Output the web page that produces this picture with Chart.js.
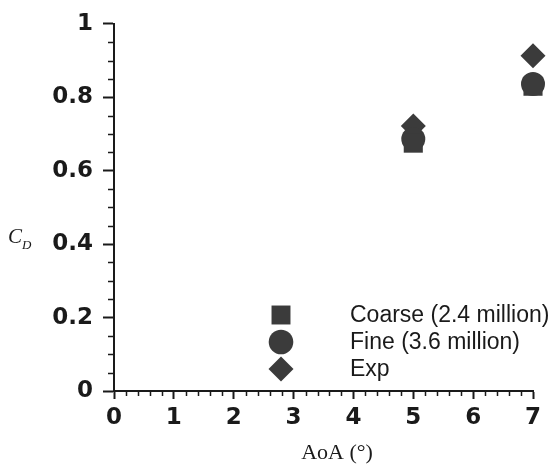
<!DOCTYPE html>
<html>
<head>
<meta charset="utf-8">
<script src="https://cdn.jsdelivr.net/npm/chart.js@4/dist/chart.umd.min.js"></script>
<style>
  html, body { margin: 0; padding: 0; background: #fff; }
  #wrap { width: 556px; height: 467px; }
</style>
</head>
<body>
<div id="wrap"><canvas id="cdChart"></canvas></div>
<script>
// 数据
const seriesNames = ['Coarse (2.4 million)', 'Fine (3.6 million)', 'Exp'];
const aoa = [5, 7];
const coarseCd = [0.675, 0.830];
const fineCd = [0.686, 0.836];
const expCd = [0.722, 0.913];
const xTicks = [0, 1, 2, 3, 4, 5, 6, 7];
const yTicks = [0, 0.2, 0.4, 0.6, 0.8, 1];
const xTitle = 'AoA (°)';

const inkColor = '#1a1a1a';
const markColor = '#3b3b3b';
const tickFont = { family: '"DejaVu Sans", "Liberation Sans", Arial, sans-serif', size: 23, weight: 'bold' };

function toPoints(values) {
  return aoa.map((a, i) => ({ x: a, y: values[i] }));
}

// 图例画在绘图区内（右下角）
const insideLegend = {
  id: 'insideLegend',
  afterDatasetsDraw(chart) {
    const ctx = chart.ctx;
    const x0 = 281, textX = 350;
    const rows = [315, 342, 369];
    const legendRadius = [13.4, 12.3, 12.5];
    ctx.save();
    chart.data.datasets.forEach((ds, i) => {
      ctx.fillStyle = markColor;
      Chart.helpers.drawPoint(ctx, {
        pointStyle: ds.pointStyle,
        radius: legendRadius[i],
        rotation: 0,
        borderWidth: 0
      }, x0, rows[i]);
      ctx.fillStyle = inkColor;
      ctx.font = '23px "Liberation Sans", Arial, sans-serif';
      ctx.textBaseline = 'middle';
      ctx.textAlign = 'left';
      ctx.fillText(ds.label, textX, rows[i] + 1);
    });
    ctx.restore();
  }
};

// 次刻度 + 坐标轴标题（C_D 带下标）
const axisExtras = {
  id: 'axisExtras',
  afterDraw(chart) {
    const ctx = chart.ctx;
    const xs = chart.scales.x, ys = chart.scales.y;
    const area = chart.chartArea;
    ctx.save();
    ctx.strokeStyle = inkColor;
    ctx.lineWidth = 1.5;
    ctx.beginPath();
    for (let k = 0; k <= 20; k++) {
      if (k % 4 === 0) continue;
      const py = Math.round(ys.getPixelForValue(k * 0.05)) + 0.5;
      ctx.moveTo(area.left - 6, py);
      ctx.lineTo(area.left, py);
    }
    for (let k = 0; k <= 35; k++) {
      if (k % 5 === 0) continue;
      const px = Math.round(xs.getPixelForValue(k * 0.2)) + 0.5;
      ctx.moveTo(px, area.bottom);
      ctx.lineTo(px, area.bottom + 5);
    }
    ctx.stroke();

    ctx.fillStyle = inkColor;
    ctx.textBaseline = 'alphabetic';
    ctx.font = 'italic 21px "Liberation Serif", "Times New Roman", serif';
    ctx.fillText('C', 8, 243);
    ctx.font = 'italic 13px "Liberation Serif", "Times New Roman", serif';
    ctx.fillText('D', 22, 249);

    // 横轴标题（原图略偏右）
    ctx.font = '22px "Liberation Serif", "Times New Roman", serif';
    ctx.textAlign = 'center';
    ctx.fillText(xTitle, 337, 459);
    ctx.restore();
  }
};

document.addEventListener('DOMContentLoaded', function() {
  const ctx = document.getElementById('cdChart').getContext('2d');
  new Chart(ctx, {
    type: 'scatter',
    data: {
      datasets: [
        { label: seriesNames[0], data: toPoints(coarseCd), pointStyle: 'rect', pointRadius: 13.5 },
        { label: seriesNames[1], data: toPoints(fineCd), pointStyle: 'circle', pointRadius: 12 },
        { label: seriesNames[2], data: toPoints(expCd), pointStyle: 'rectRot', pointRadius: 12.5 }
      ].map(ds => Object.assign(ds, {
        backgroundColor: markColor,
        borderColor: markColor,
        borderWidth: 0,
        clip: false,
        pointHoverRadius: ds.pointRadius
      }))
    },
    options: {
      responsive: true,
      maintainAspectRatio: false,
      animation: false,
      layout: { padding: { top: 20, right: 23, left: 0, bottom: 0 } },
      plugins: {
        legend: { display: false },
        tooltip: { enabled: false }
      },
      scales: {
        x: {
          type: 'linear',
          min: 0,
          max: 7,
          afterFit(scale) { scale.height = 76; },
          afterBuildTicks(scale) { scale.ticks = xTicks.map(v => ({ value: v })); },
          border: { display: true, color: inkColor, width: 2 },
          grid: { drawOnChartArea: false, drawTicks: true, tickLength: 8, tickWidth: 2, tickColor: inkColor },
          ticks: { padding: 5, color: inkColor, font: tickFont }
        },
        y: {
          type: 'linear',
          min: 0,
          max: 1,
          afterFit(scale) { scale.width = 114; },
          afterBuildTicks(scale) { scale.ticks = yTicks.map(v => ({ value: v })); },
          border: { display: true, color: inkColor, width: 2 },
          grid: { drawOnChartArea: false, drawTicks: true, tickLength: 11, tickWidth: 2, tickColor: inkColor },
          ticks: {
            padding: 10,
            color: inkColor,
            font: tickFont,
            callback: v => String(Math.round(v * 10) / 10)
          }
        }
      }
    },
    plugins: [insideLegend, axisExtras]
  });
});
</script>
</body>
</html>
